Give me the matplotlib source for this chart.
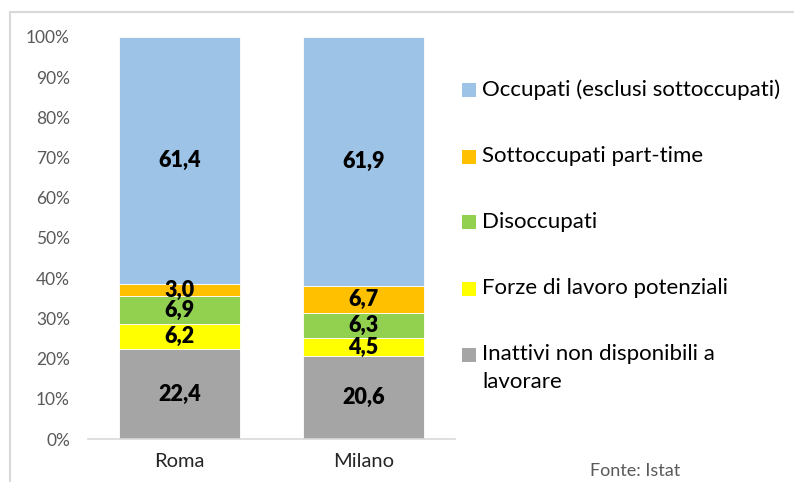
import matplotlib.pyplot as plt
from matplotlib.patches import Rectangle

# dati (Istat)
cities = ['Roma', 'Milano']
inattivi = [22.4, 20.6]
forze_potenziali = [6.2, 4.5]
disoccupati = [6.9, 6.3]
sottoccupati = [3.0, 6.7]
occupati = [61.4, 61.9]

series_names = ['Inattivi non disponibili a\nlavorare', 'Forze di lavoro potenziali',
                'Disoccupati', 'Sottoccupati part-time',
                'Occupati (esclusi sottoccupati)']
series_vals = [inattivi, forze_potenziali, disoccupati, sottoccupati, occupati]
colors = ['#A5A5A5', '#FFFF00', '#92D050', '#FFC000', '#9DC3E6']
ytick_vals = [0, 10, 20, 30, 40, 50, 60, 70, 80, 90, 100]

plt.rcParams['font.family'] = ['Lato', 'DejaVu Sans']

W, H = 794, 482
fig = plt.figure(figsize=(W / 100, H / 100), dpi=100)

# cornice esterna
fig.add_artist(Rectangle((10 / W, -0.1), 1.2, 1 - 12 / H + 0.1, transform=fig.transFigure,
                         fill=False, edgecolor='#D9D9D9', linewidth=1.5))

ax = fig.add_axes([88 / W, 1 - 439 / H, (455 - 88) / W, (439 - 37) / H])

totals = [sum(v[i] for v in series_vals) for i in range(len(cities))]
bottoms = [0.0] * len(cities)
x = list(range(len(cities)))
for vals, col in zip(series_vals, colors):
    pct = [v / t * 100 for v, t in zip(vals, totals)]
    ax.bar(x, pct, width=0.66, bottom=bottoms, color=col, edgecolor='white', linewidth=0.6)
    for xi, b, p, v in zip(x, bottoms, pct, vals):
        ax.text(xi, b + p / 2, f'{v:.1f}'.replace('.', ','), ha='center', va='center',
                fontsize=15.5, fontweight='heavy', color='black')
    bottoms = [b + p for b, p in zip(bottoms, pct)]

ax.set_xlim(-0.5, 1.5)
ax.set_ylim(0, 100)
ax.set_yticks(ytick_vals)
ax.set_yticklabels([f'{t}%' for t in ytick_vals])
ax.set_xticks(x)
ax.set_xticklabels(cities)
ax.tick_params(axis='y', length=0, pad=13, labelsize=12.5, labelcolor='#595959')
ax.tick_params(axis='x', length=0, pad=10, labelsize=14.5, labelcolor='#262626')
for s in ['top', 'right', 'left']:
    ax.spines[s].set_visible(False)
ax.spines['bottom'].set_color('#D9D9D9')
ax.spines['bottom'].set_linewidth(1.2)

# legenda
leg_y = [355, 289, 222, 157, 90]
for name, col, yy in zip(series_names, colors, leg_y):
    fig.add_artist(Rectangle((462 / W, 1 - (yy + 7) / H), 14 / W, 14 / H,
                             transform=fig.transFigure, facecolor=col, edgecolor='none'))
    fig.text(482 / W, 1 - (yy - 10.5) / H, name, ha='left', va='top', fontsize=16,
             color='black', linespacing=1.45)

fig.text(590 / W, 1 - 471 / H, 'Fonte: Istat', ha='left', va='center', fontsize=13,
         color='#595959')

fig.savefig('out.png', dpi=100)
